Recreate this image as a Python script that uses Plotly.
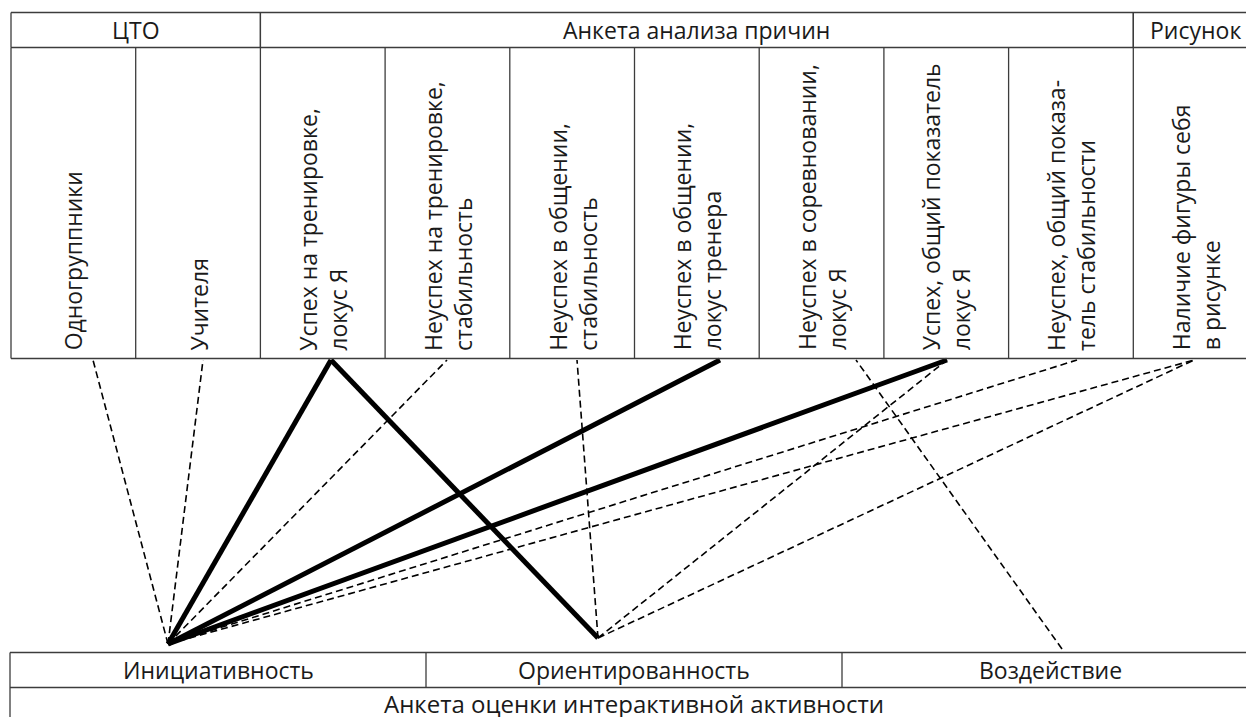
import plotly.graph_objects as go

# ---------------- data ----------------
top_labels = [
    "Одногруппники",
    "Учителя",
    "Успех на тренировке,<br>локус Я",
    "Неуспех на тренировке,<br>стабильность",
    "Неуспех в общении,<br>стабильность",
    "Неуспех в общении,<br>локус тренера",
    "Неуспех в соревновании,<br>локус Я",
    "Успех, общий показатель<br>локус Я",
    "Неуспех, общий показа-<br>тель стабильности",
    "Наличие фигуры себя<br>в рисунке",
]
header_groups = ["ЦТО", "Анкета анализа причин", "Рисунок"]
header_group_sizes = [2, 7, 1]

bottom_labels = ["Инициативность", "Ориентированность", "Воздействие"]
bottom_title = "Анкета оценки интерактивной активности"

# links: (bottom index, top index)
strong_links = [(0, 2), (0, 5), (0, 7), (1, 2)]
weak_links = [(0, 0), (0, 1), (0, 3), (0, 8), (0, 9),
              (1, 4), (1, 7), (1, 9), (2, 6)]

# ---------------- layout constants ----------------
W, H = 1246, 717
TBL_X0 = 11.0
COL_W = 124.7
TBL_Y0, HDR_Y1, TBL_Y1 = 12.5, 47.5, 358.5
BT_X0, BT_W = 10.0, 416.0
BT_Y0, BT_YM, BT_Y1 = 652.5, 687.5, 730
TOP_ANCHOR_X = [93, 203, 331, 447, 577, 720, 856, 947, 1077, 1194]
TOP_ANCHOR_Y = 360
BOT_ANCHOR = [(168, 644), (598, 638), (1062, 649)]

FONT = "Open Sans"
FS = 23
TXT = "#1a1a1a"
BORDER = "#3c3c3c"

fig = go.Figure()

# links
for kind, links in (("weak", weak_links), ("strong", strong_links)):
    for b, t in links:
        bx, by = BOT_ANCHOR[b]
        fig.add_trace(go.Scatter(
            x=[bx, TOP_ANCHOR_X[t]], y=[by, TOP_ANCHOR_Y],
            mode="lines", hoverinfo="skip", showlegend=False,
            line=dict(color="black",
                      width=5 if kind == "strong" else 1.6,
                      dash="solid" if kind == "strong" else "7px,4px"),
        ))

shapes = []
def hline(x0, x1, y):
    shapes.append(dict(type="line", xref="x", yref="y", x0=x0, x1=x1, y0=y, y1=y,
                       line=dict(color=BORDER, width=1.3)))
def vline(x, y0, y1):
    shapes.append(dict(type="line", xref="x", yref="y", x0=x, x1=x, y0=y0, y1=y1,
                       line=dict(color=BORDER, width=1.3)))

n = len(top_labels)
TBL_X1 = TBL_X0 + COL_W * n
hline(TBL_X0, TBL_X1, TBL_Y0)
hline(TBL_X0, TBL_X1, HDR_Y1)
hline(TBL_X0, TBL_X1, TBL_Y1)
for k in range(n + 1):
    vline(TBL_X0 + COL_W * k, HDR_Y1, TBL_Y1)

annotations = []
start = 0
for name, size in zip(header_groups, header_group_sizes):
    x0 = TBL_X0 + COL_W * start
    x1 = TBL_X0 + COL_W * (start + size)
    vline(x0, TBL_Y0, HDR_Y1)
    vline(x1, TBL_Y0, HDR_Y1)
    annotations.append(dict(x=(x0 + x1) / 2, y=(TBL_Y0 + HDR_Y1) / 2, text=name,
                            showarrow=False, xref="x", yref="y",
                            font=dict(family=FONT, size=FS, color=TXT)))
    start += size

for k, lab in enumerate(top_labels):
    xc = TBL_X0 + COL_W * (k + 0.5)
    annotations.append(dict(x=xc, y=TBL_Y1 - 7, text=lab, textangle=-90,
                            showarrow=False, xref="x", yref="y",
                            xanchor="center", yanchor="bottom", align="left",
                            borderpad=0,
                            font=dict(family=FONT, size=FS, color=TXT)))

# bottom table
BT_X1 = BT_X0 + BT_W * len(bottom_labels)
hline(BT_X0, BT_X1, BT_Y0)
hline(BT_X0, BT_X1, BT_YM)
hline(BT_X0, BT_X1, BT_Y1)
vline(BT_X0, BT_Y0, BT_Y1)
for k, lab in enumerate(bottom_labels):
    vline(BT_X0 + BT_W * (k + 1), BT_Y0, BT_YM)
    annotations.append(dict(x=BT_X0 + BT_W * (k + 0.5), y=(BT_Y0 + BT_YM) / 2,
                            text=lab, showarrow=False, xref="x", yref="y",
                            font=dict(family=FONT, size=FS, color=TXT)))
annotations.append(dict(x=(BT_X0 + BT_X1) / 2, y=BT_YM + 16, text=bottom_title,
                        showarrow=False, xref="x", yref="y",
                        font=dict(family=FONT, size=24, color=TXT)))

fig.update_layout(
    width=W, height=H,
    margin=dict(l=0, r=0, t=0, b=0),
    paper_bgcolor="white", plot_bgcolor="white",
    xaxis=dict(range=[0, W], visible=False, fixedrange=True),
    yaxis=dict(range=[H, 0], visible=False, fixedrange=True),
    shapes=shapes, annotations=annotations, showlegend=False,
)

fig.write_html(
    "out.html",
    config={"displayModeBar": False},
    post_script="document.body.style.margin='0';document.body.style.overflow='hidden';",
)
